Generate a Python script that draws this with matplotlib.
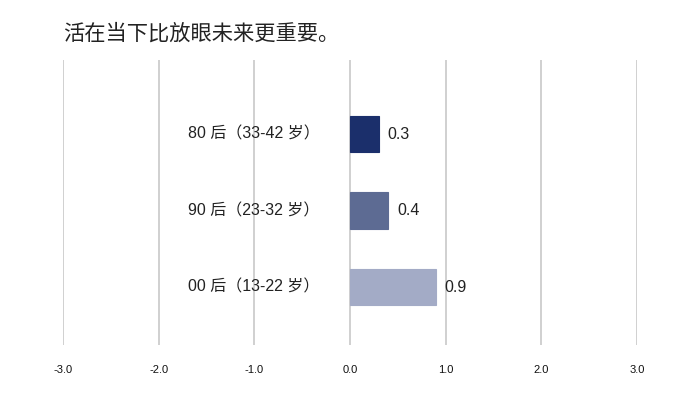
import matplotlib
matplotlib.use("Agg")
import matplotlib.pyplot as plt

plt.rcParams["font.family"] = ["Liberation Sans", "Noto Sans CJK SC", "DejaVu Sans"]

# ── Data ─────────────────────────────────────────────────────────────
groups = ["00 后（13-22 岁）", "90 后（23-32 岁）", "80 后（33-42 岁）"]
values = [0.9, 0.4, 0.3]
colors = ["#a3abc6", "#5d6b93", "#1b2f6b"]
xticks = [-3.0, -2.0, -1.0, 0.0, 1.0, 2.0, 3.0]
title = "活在当下比放眼未来更重要。"

fig = plt.figure(figsize=(7, 3.94), dpi=100)
ax = fig.add_axes([0.09, 0.124, 0.82, 0.724])

ypos = list(range(len(groups)))
ax.barh(ypos, values, height=0.48, color=colors, edgecolor=colors,
        linewidth=0.8, zorder=3)

for y, v in zip(ypos, values):
    ax.text(v + 0.09, y, f"{v:.1f}", ha="left", va="center",
            fontsize=11.5, color="#222222")
for y, g in zip(ypos, groups):
    ax.text(-0.32, y, g, ha="right", va="center", fontsize=11.5,
            color="#222222")

ax.set_xlim(-3, 3)
ax.set_ylim(-0.76, 2.97)
ax.set_xticks(xticks)
ax.set_xticklabels([f"{t:.1f}" for t in xticks], fontsize=8, color="#111111")
ax.set_yticks([])
ax.tick_params(axis="x", length=0, pad=14)
ax.grid(axis="x", color="#c8c8c8", linewidth=1.2, zorder=0)
for s in ax.spines.values():
    s.set_visible(False)

fig.text(0.09, 0.915, title, fontsize=15.3, color="#222222",
         ha="left", va="center")

fig.savefig("out.png", dpi=100, facecolor="white")
